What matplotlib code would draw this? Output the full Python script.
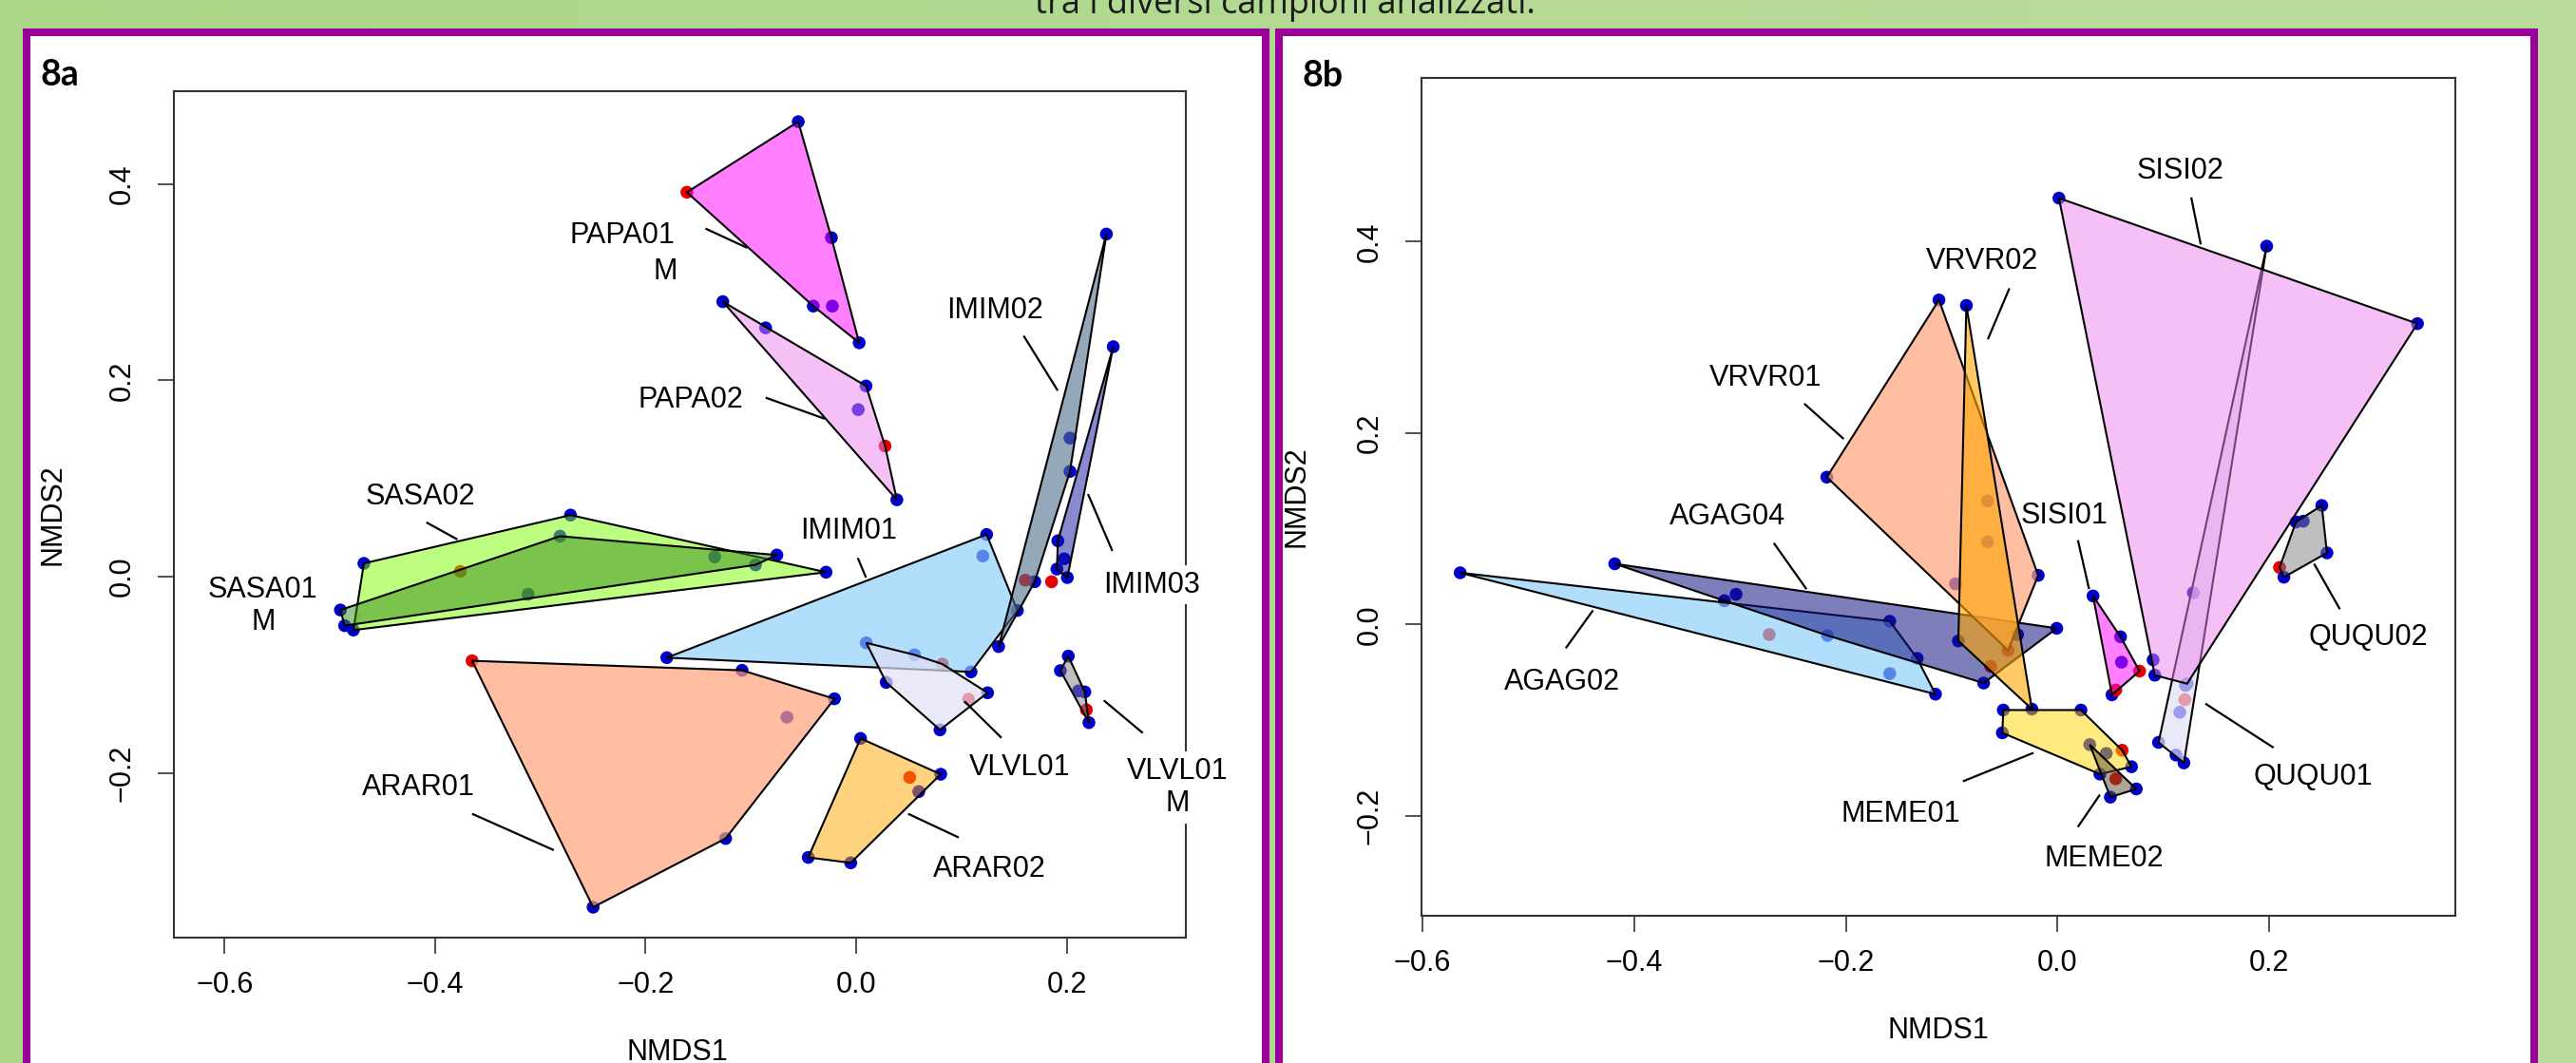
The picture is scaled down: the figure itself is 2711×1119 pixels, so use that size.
import numpy as np
import matplotlib
matplotlib.use("Agg")
import matplotlib.pyplot as plt
from matplotlib.patches import Polygon, Rectangle

plt.rcParams['font.family'] = ['Liberation Sans', 'DejaVu Sans']

W, H = 2711, 1119

# ---------------- panel 8a : NMDS scores per group (x, y, point colour) ----------------
PAPA01_M = ([-0.055, -0.1608, 0.0029, -0.0235, -0.0407, -0.0226],
            [0.4636, 0.3917, 0.2383, 0.3454, 0.2757, 0.2757], "brbbbb")
PAPA02 = ([-0.1267, -0.086, 0.0094, 0.002, 0.0275, 0.0387],
          [0.2802, 0.2535, 0.1943, 0.1702, 0.1331, 0.0783], "bbbbrb")
IMIM01 = ([0.124, 0.1204, 0.1532, 0.1092, -0.1799],
          [0.0429, 0.021, -0.0345, -0.0971, -0.0826], "bbbbb")
IMIM02 = ([0.2378, 0.2032, 0.2032, 0.1697, 0.1607, 0.1354],
          [0.3491, 0.1412, 0.1072, -0.0052, -0.0036, -0.0713], "bbbbrb")
IMIM03 = ([0.2443, 0.1917, 0.1977, 0.1908, 0.2007],
          [0.2343, 0.0365, 0.0181, 0.0077, -0.001], "bbbbb")
VLVL01 = ([0.0096, 0.0554, 0.0819, 0.1249, 0.1068, 0.0797, 0.0286],
          [-0.0675, -0.0797, -0.0891, -0.1184, -0.1249, -0.1562, -0.1078], "bbrbrbb")
VLVL01_M = ([0.2016, 0.1941, 0.2113, 0.2173, 0.2188, 0.2212],
            [-0.081, -0.0958, -0.1165, -0.1175, -0.1358, -0.1488], "bbbbrb")
ARAR01 = ([-0.3649, -0.1084, -0.0206, -0.0657, -0.124, -0.2499],
          [-0.0858, -0.0955, -0.1245, -0.1433, -0.2669, -0.3369], "rbbbbb")
ARAR02 = ([0.0042, 0.0804, 0.0509, 0.0595, -0.0455, -0.0051],
          [-0.1649, -0.2014, -0.2046, -0.2191, -0.2862, -0.2917], "bbrbbb")
SASA02 = ([-0.4677, -0.2714, -0.3761, -0.0286, -0.4777],
          [0.0135, 0.0627, 0.0053, 0.0045, -0.0545], "bbrbb")
SASA01_M = ([-0.49, -0.486, -0.2814, -0.3117, -0.1344, -0.0956, -0.0753],
            [-0.034, -0.05, 0.0412, -0.018, 0.0201, 0.012, 0.022], "bbbbbbb")
# single sample not enclosed by a hull
extra_a = ([0.1857], [-0.0052], "r")

groups_a = [PAPA01_M, PAPA02, IMIM01, IMIM02, IMIM03, VLVL01, VLVL01_M,
            ARAR01, ARAR02, SASA02, SASA01_M]
fills_a = [((1.0, 0.0, 1.0), 0.5), ((0.93, 0.51, 0.93), 0.5), ((0.53, 0.81, 0.98), 0.65),
           ((0.31, 0.43, 0.55), 0.6), ((0.08, 0.08, 0.63), 0.5), ((0.88, 0.88, 0.96), 0.7),
           ((0.5, 0.5, 0.5), 0.5), ((1.0, 0.63, 0.48), 0.7), ((1.0, 0.65, 0.0), 0.5),
           ((0.49, 0.99, 0.0), 0.5), ((0.22, 0.55, 0.12), 0.5)]

labels_a = ["SASA02", "SASA01\nM", "PAPA01", "M", "PAPA02", "IMIM02", "IMIM01",
            "IMIM03", "VLVL01", "VLVL01\nM", "ARAR01", "ARAR02"]
label_xa = [-0.4144, -0.5636, -0.2226, -0.1811, -0.1573, 0.132, -0.0075,
            0.281, 0.1556, 0.305, -0.4155, 0.1271]
label_ya = [0.0813, -0.0299, 0.3472, 0.311, 0.1805, 0.2713, 0.0461,
            -0.0084, -0.1949, -0.2151, -0.2152, -0.2982]
boxed_a = ["IMIM03", "VLVL01\nM"]

leader_a_x0 = [-0.4084, -0.1431, -0.086, 0.1592, 0.0016, 0.2203, 0.1029, 0.2354, -0.3649, 0.0494]
leader_a_y0 = [0.0553, 0.3547, 0.1824, 0.2454, 0.019, 0.0842, -0.1271, -0.1262, -0.2417, -0.2417]
leader_a_x1 = [-0.3789, -0.1034, -0.0299, 0.1916, 0.0094, 0.2435, 0.1381, 0.2724, -0.2872, 0.0975]
leader_a_y1 = [0.0379, 0.335, 0.1609, 0.1895, -0.001, 0.0261, -0.1643, -0.1594, -0.2788, -0.2659]

# ---------------- panel 8b ----------------
AGAG02 = ([-0.5645, -0.1585, -0.1326, -0.1153, -0.1585, -0.2724],
          [0.054, 0.0034, -0.0354, -0.0728, -0.0513, -0.0105], "bbbbbr")
AGAG04 = ([-0.4184, -0.3038, -0.3148, -0.2174, -0.0007, -0.0698],
          [0.0634, 0.0315, 0.0248, -0.0115, -0.004, -0.0612], "bbbbbb")
VRVR01 = ([-0.218, -0.112, -0.0182, -0.0467, -0.0964],
          [0.1539, 0.339, 0.0513, -0.027, 0.0425], "bbbrb")
VRVR02 = ([-0.0861, -0.0937, -0.0377, -0.0242, -0.0662, -0.0662, -0.0631],
          [0.3333, -0.0172, -0.0106, -0.0884, 0.1291, 0.0862, -0.0437], "bbbbbbr")
QUQU01 = ([0.1977, 0.121, 0.1204, 0.1156, 0.0955, 0.112, 0.1195],
          [0.3952, -0.0636, -0.0785, -0.0917, -0.1232, -0.1364, -0.1446], "bbrbbbb")
SISI02 = ([0.0014, 0.3402, 0.1225, 0.092, 0.0904, 0.1284],
          [0.4454, 0.3143, -0.0619, -0.053, -0.037, 0.0332], "bbbbbb")
SISI01 = ([0.0336, 0.0596, 0.0605, 0.0776, 0.0515, 0.0551],
          [0.0298, -0.0129, -0.0394, -0.0487, -0.0735, -0.0685], "bbbrbr")
QUQU02 = ([0.2498, 0.2254, 0.2323, 0.2547, 0.2099, 0.214],
          [0.1243, 0.1071, 0.1079, 0.0748, 0.0596, 0.0494], "bbbbrb")
MEME01 = ([-0.0512, 0.0222, -0.0521, 0.0611, 0.0461, 0.07, 0.0401],
          [-0.0894, -0.0894, -0.1132, -0.1314, -0.1347, -0.1486, -0.1563], "bbbrbbb")
MEME02 = ([0.0305, 0.0745, 0.05, 0.0551],
          [-0.1255, -0.1718, -0.1804, -0.1612], "bbbr")

groups_b = [AGAG02, AGAG04, VRVR01, VRVR02, QUQU01, SISI02, SISI01, QUQU02, MEME01, MEME02]
fills_b = [((0.53, 0.81, 0.98), 0.65), ((0.08, 0.08, 0.51), 0.55), ((1.0, 0.63, 0.48), 0.7),
           ((1.0, 0.65, 0.0), 0.6), ((0.88, 0.88, 0.96), 0.7), ((0.93, 0.51, 0.93), 0.5),
           ((1.0, 0.0, 1.0), 0.5), ((0.5, 0.5, 0.5), 0.5), ((1.0, 0.84, 0.0), 0.5),
           ((0.35, 0.31, 0.2), 0.5)]

labels_b = ["VRVR01", "VRVR02", "SISI02", "SISI01", "AGAG04", "AGAG02",
            "QUQU02", "QUQU01", "MEME01", "MEME02"]
label_xb = [-0.2761, -0.071, 0.1162, 0.0063, -0.3122, -0.4679, 0.2938, 0.2419, -0.1484, 0.0441]
label_yb = [0.2573, 0.379, 0.474, 0.1139, 0.1128, -0.0602, -0.0139, -0.1595, -0.1977, -0.245]
boxed_b = ["QUQU02"]

leader_b_x0 = [-0.2393, -0.2681, 0.1264, -0.0454, 0.0193, 0.2425, -0.4389, -0.0894, 0.0192, 0.1398]
leader_b_y0 = [0.2307, 0.0851, 0.4462, 0.3512, 0.0881, 0.0635, 0.0149, -0.1639, -0.2116, -0.0827]
leader_b_x1 = [-0.202, -0.2372, 0.1354, -0.0658, 0.0299, 0.2669, -0.4647, -0.0227, 0.0401, 0.2042]
leader_b_y1 = [0.1938, 0.0369, 0.3971, 0.298, 0.0369, 0.0159, -0.0248, -0.1341, -0.1778, -0.1287]

x_ticks = [-0.6, -0.4, -0.2, 0.0, 0.2]
y_ticks = [-0.2, 0.0, 0.2, 0.4]

POINT_COL = {"b": "#0000cd", "r": "#e60000"}


def hull(xs, ys):
    pts = sorted(set(zip(xs, ys)))
    if len(pts) < 3:
        return pts

    def cross(o, a, b):
        return (a[0] - o[0]) * (b[1] - o[1]) - (a[1] - o[1]) * (b[0] - o[0])

    lower, upper = [], []
    for p in pts:
        while len(lower) >= 2 and cross(lower[-2], lower[-1], p) <= 0:
            lower.pop()
        lower.append(p)
    for p in reversed(pts):
        while len(upper) >= 2 and cross(upper[-2], upper[-1], p) <= 0:
            upper.pop()
        upper.append(p)
    return lower[:-1] + upper[:-1]


def draw_panel(ax, groups, fills, extra, labels, lx, ly, boxed, lx0, ly0, lx1, ly1, xlim, ylim):
    # points first, hulls with transparent fill on top (like ordihull)
    for xs, ys, cols in groups + ([extra] if extra else []):
        ax.scatter(xs, ys, c=[POINT_COL[c] for c in cols], s=95, edgecolors='none', zorder=2)
    for (xs, ys, cols), (rgb, a) in zip(groups, fills):
        poly = Polygon(hull(xs, ys), closed=True, facecolor=(*rgb, a),
                       edgecolor='black', lw=1.5, zorder=2.1)
        ax.add_patch(poly)
    for x0, y0, x1, y1 in zip(lx0, ly0, lx1, ly1):
        ax.plot([x0, x1], [y0, y1], color='black', lw=1.6, zorder=2.3, solid_capstyle='butt')
    for t, x, y in zip(labels, lx, ly):
        kw = {}
        if t in boxed:
            kw['bbox'] = dict(fc='white', ec='none', pad=4)
        ax.text(x, y, t, ha='center', va='center', fontsize=22, linespacing=1.2,
                color='black', zorder=3, **kw)
    ax.set_xlim(*xlim)
    ax.set_ylim(*ylim)
    ax.set_xticks(x_ticks, [f"{v:.1f}".replace('-', '\u2212') for v in x_ticks])
    ax.set_yticks(y_ticks, [f"{v:.1f}".replace('-', '\u2212') for v in y_ticks],
                  rotation=90, va='center')
    ax.tick_params(axis='both', direction='out', length=12, width=1.1, labelsize=22,
                   color='#222222')
    ax.tick_params(axis='x', pad=13)
    ax.tick_params(axis='y', pad=16)
    for s in ax.spines.values():
        s.set_color('#333333')
        s.set_linewidth(1.5)
    ax.set_facecolor('white')


fig = plt.figure(figsize=(W / 100, H / 100), dpi=100)

# green background
bg = fig.add_axes([0, 0, 1, 1], zorder=-3)
grad = np.linspace(0, 1, 256)[None, :, None]
c0 = np.array([172, 214, 136]) / 255
c1 = np.array([186, 221, 158]) / 255
bg.imshow(c0 + (c1 - c0) * grad, aspect='auto', extent=[0, 1, 0, 1])
bg.set_axis_off()

# title line, cut off by the top edge as in the original slide
fig.text(1352 / W, 1 - 14 / H, "tra i diversi campioni analizzati.", ha='center',
         va='baseline', fontsize=26, family=['Open Sans', 'DejaVu Sans'], color='#1a1a1a')

# purple panel frames
for x0, x1 in [(28, 1332), (1346, 2667)]:
    r = Rectangle((x0 / W, -20 / H), (x1 - x0) / W, (1119 - 34 + 20) / H,
                  transform=fig.transFigure, facecolor='white', edgecolor='#990099',
                  lw=5.8, zorder=-2)
    fig.add_artist(r)

fig.text(43 / W, 1 - 90 / H, "8a", fontsize=27, fontweight='bold',
         family=['Lato', 'DejaVu Sans'], ha='left', va='baseline')
fig.text(1371 / W, 1 - 91 / H, "8b", fontsize=27, fontweight='bold',
         family=['Lato', 'DejaVu Sans'], ha='left', va='baseline')

ax_a = fig.add_axes([182.5 / W, 1 - 987 / H, (1248 - 182.5) / W, (987 - 96) / H])
draw_panel(ax_a, groups_a, fills_a, extra_a, labels_a, label_xa, label_ya, boxed_a,
           leader_a_x0, leader_a_y0, leader_a_x1, leader_a_y1,
           (-0.6487, 0.3133), (-0.3679, 0.4947))
ax_a.set_xlabel("NMDS1", fontsize=22, va='center')
ax_a.xaxis.set_label_coords(0.498, -121 / 891)
ax_a.set_ylabel("NMDS2", fontsize=22, va='center')
ax_a.yaxis.set_label_coords(-126.5 / 1065.5, 0.4995)

ax_b = fig.add_axes([1495.6 / W, 1 - 964.3 / H, (2584 - 1495.6) / W, (964.3 - 82) / H])
draw_panel(ax_b, groups_b, fills_b, None, labels_b, label_xb, label_yb, boxed_b,
           leader_b_x0, leader_b_y0, leader_b_x1, leader_b_y1,
           (-0.6014, 0.376), (-0.3046, 0.571))
ax_b.set_xlabel("NMDS1", fontsize=22, va='center')
ax_b.xaxis.set_label_coords(0.5, -120.7 / 882.3)
ax_b.set_ylabel("NMDS2", fontsize=22, va='center')
ax_b.yaxis.set_label_coords(-131 / 1088.4, 0.5)

fig.savefig("out.png", dpi=100)
